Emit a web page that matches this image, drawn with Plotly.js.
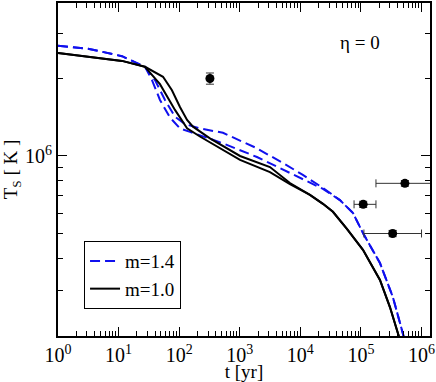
<!DOCTYPE html>
<html>
<head>
<meta charset="utf-8">
<script src="https://cdn.plot.ly/plotly-3.0.1.min.js"></script>
<style>
  body { margin: 0; padding: 0; background: white; }
  #chart { width: 436px; height: 382px; }
</style>
</head>
<body>
<div id="chart"></div>
<script>
// cooling curves, m=1.4 (dashed blue), two branches each
var tDashA = [1, 3.13, 11.4, 27.3, 39.9, 58.3, 85.3, 125, 220, 528, 1780, 5160, 11000, 23600, 45000, 73800, 108000, 206000, 337000, 513000, 553000];
var TDashA = [2.68e6, 2.61e6, 2.44e6, 2.22e6, 1.97e6, 1.65e6, 1.42e6, 1.33e6, 1.28e6, 1.23e6, 1.08e6, 9.4e5, 8.44e5, 7.52e5, 6.74e5, 6.01e5, 5.02e5, 3.84e5, 2.83e5, 2.0e5, 1.85e5];
var tDashB = [1, 3.13, 11.4, 27.3, 35.6, 48.2, 70.5, 103, 151, 528, 1920, 6730, 14400, 23600, 45000, 73800, 108000, 206000, 337000, 513000, 553000];
var TDashB = [2.68e6, 2.61e6, 2.44e6, 2.22e6, 1.97e6, 1.65e6, 1.41e6, 1.28e6, 1.24e6, 1.12e6, 9.91e5, 8.59e5, 7.85e5, 7.45e5, 6.74e5, 6.01e5, 5.02e5, 3.84e5, 2.83e5, 2.0e5, 1.85e5];

// m=1.0 (solid black)
var tSolidA = [1, 3.13, 11.4, 27.3, 54.1, 76, 103, 135, 169, 322, 1010, 3150, 6730, 14400, 23600, 34500, 58700, 108000, 206000, 301000, 424000, 450000];
var TSolidA = [2.51e6, 2.43e6, 2.34e6, 2.22e6, 2.03e6, 1.80e6, 1.55e6, 1.38e6, 1.30e6, 1.17e6, 1.0e6, 9.06e5, 7.85e5, 7.06e5, 6.52e5, 6.07e5, 5.21e5, 4.32e5, 3.30e5, 2.59e5, 2.0e5, 1.9e5];
var tSolidB = [1, 3.13, 11.4, 27.3, 48.2, 85.3, 135, 220, 322, 1010, 3150, 6730, 14400, 23600, 34500, 58700, 108000, 206000, 301000, 424000, 450000];
var TSolidB = [2.51e6, 2.43e6, 2.34e6, 2.22e6, 1.90e6, 1.51e6, 1.28e6, 1.19e6, 1.13e6, 9.65e5, 8.66e5, 7.78e5, 7.06e5, 6.52e5, 6.07e5, 5.21e5, 4.32e5, 3.30e5, 2.59e5, 2.0e5, 1.9e5];

// observed pulsars
var tObs = [322, 532000, 109000, 334000];
var TObs = [2.0e6, 7.83e5, 6.49e5, 5.0e5];
var tErrPlus = [0, 1.0e6, 68000, 666000];
var tErrMinus = [0, 355000, 32000, 222000];
var TErr = [1.0e5, 2.0e4, 1.8e4, 1.4e4];

var xMajor = [1, 10, 100, 1000, 10000, 100000, 1000000];
var xMajorText = ['10<sup>0</sup>', '10<sup>1</sup>', '10<sup>2</sup>', '10<sup>3</sup>', '10<sup>4</sup>', '10<sup>5</sup>', '10<sup>6</sup>'];
var yMajor = [1e6];
var yMajorText = ['10<sup>6</sup>'];

var xMinor = [];
for (var d = 0; d < 7; d++) {
    for (var k = 2; k < 10; k++) {
        xMinor.push(k * Math.pow(10, d));
    }
}
var yMinor = [2e5, 3e5, 4e5, 5e5, 6e5, 7e5, 8e5, 9e5, 2e6, 3e6];

var blue = '#1010ee';
var font = 'Liberation Serif';

var data = [
    {x: tDashA, y: TDashA, mode: 'lines', name: 'm=1.4', line: {color: blue, width: 2, dash: '10px,5px'}},
    {x: tDashB, y: TDashB, mode: 'lines', showlegend: false, line: {color: blue, width: 2, dash: '10px,5px'}},
    {x: tSolidA, y: TSolidA, mode: 'lines', name: 'm=1.0', line: {color: 'black', width: 2}},
    {x: tSolidB, y: TSolidB, mode: 'lines', showlegend: false, line: {color: 'black', width: 2}},
    {
        x: tObs, y: TObs, mode: 'markers', showlegend: false,
        marker: {color: 'black', size: 9},
        error_x: {type: 'data', array: tErrPlus, arrayminus: tErrMinus, color: '#333', thickness: 1, width: 4},
        error_y: {type: 'data', array: TErr, color: '#333', thickness: 1, width: 4}
    }
];

var axisCommon = {
    type: 'log',
    showgrid: false,
    zeroline: false,
    showline: true,
    linecolor: 'black',
    linewidth: 2,
    mirror: 'allticks',
    ticks: 'inside',
    tickcolor: 'black',
    tickwidth: 1,
    ticklen: 9,
    tickmode: 'array',
    tickfont: {family: font, size: 20, color: 'black'}
};

var layout = {
    width: 436,
    height: 382,
    margin: {l: 58, r: 6, t: 3, b: 46},
    paper_bgcolor: 'white',
    plot_bgcolor: 'white',
    font: {family: font, color: 'black'},
    xaxis: Object.assign({}, axisCommon, {
        range: [0, 6.14],
        tickvals: xMajor,
        ticktext: xMajorText,
        minor: {tickmode: 'array', tickvals: xMinor, ticks: 'inside', ticklen: 5, tickcolor: 'black', tickwidth: 1},
        title: {text: 't [yr]', font: {family: font, size: 19}, standoff: 4}
    }),
    yaxis: Object.assign({}, axisCommon, {
        range: [5.301, 6.594],
        tickvals: yMajor,
        ticktext: yMajorText,
        minor: {tickmode: 'array', tickvals: yMinor, ticks: 'inside', ticklen: 5, tickcolor: 'black', tickwidth: 1},
        title: {text: 'T<sub>S</sub> [ K ]', font: {family: font, size: 19}, standoff: 4}
    }),
    legend: {
        x: 0.07, y: 0.285, xanchor: 'left', yanchor: 'top',
        bgcolor: 'white', bordercolor: 'black', borderwidth: 1,
        font: {family: font, size: 19}, tracegroupgap: 0
    },
    showlegend: true,
    annotations: [{
        xref: 'paper', yref: 'paper', x: 0.87, y: 0.92,
        text: 'η = 0', showarrow: false,
        font: {family: font, size: 19, color: 'black'}
    }]
};

Plotly.newPlot('chart', data, layout, {displayModeBar: false, staticPlot: true});
</script>
</body>
</html>
